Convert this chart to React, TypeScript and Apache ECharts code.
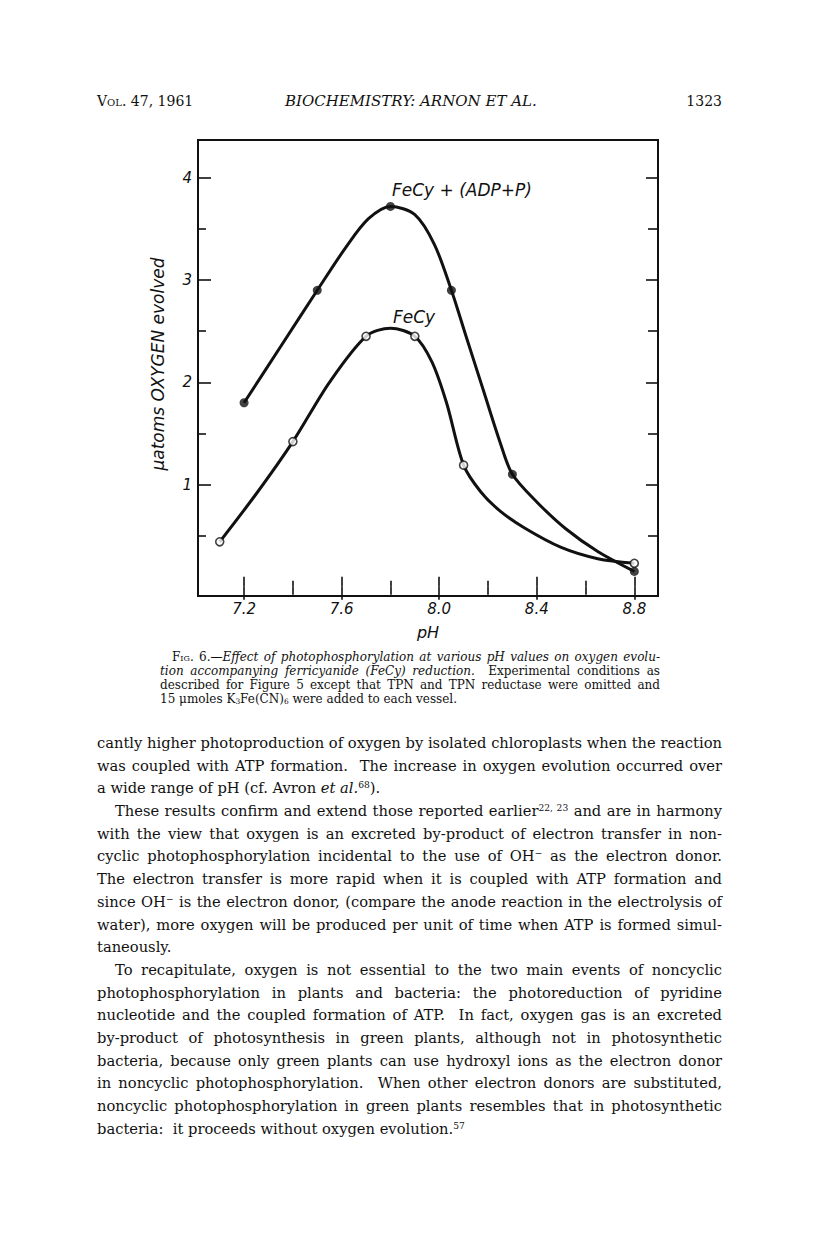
import React, { useEffect, useLayoutEffect, useRef } from "react";
import * as echarts from "echarts";

// measured data points (pH, µatoms O2 evolved)
const phFilled = [7.2, 7.5, 7.8, 8.05, 8.3, 8.8];
const oxygenFilled = [1.8, 2.9, 3.72, 2.9, 1.1, 0.15];
const phOpen = [7.1, 7.4, 7.7, 7.9, 8.1, 8.8];
const oxygenOpen = [0.44, 1.42, 2.45, 2.45, 1.19, 0.23];

// hand-drawn curves
const curveFilledPh = [7.2, 7.35, 7.5, 7.62, 7.71, 7.8, 7.9, 7.98, 8.05, 8.11, 8.18, 8.25, 8.3, 8.4, 8.52, 8.65, 8.8];
const curveFilledO2 = [1.8, 2.35, 2.9, 3.33, 3.6, 3.72, 3.64, 3.35, 2.9, 2.45, 1.93, 1.41, 1.1, 0.83, 0.565, 0.345, 0.15];
const curveOpenPh = [7.1, 7.25, 7.4, 7.55, 7.7, 7.8, 7.9, 7.97, 8.03, 8.1, 8.17, 8.25, 8.35, 8.5, 8.65, 8.8];
const curveOpenO2 = [0.44, 0.91, 1.42, 2.0, 2.45, 2.53, 2.45, 2.2, 1.8, 1.19, 0.93, 0.74, 0.575, 0.385, 0.275, 0.23];

const xMajorTicks = [7.2, 7.6, 8.0, 8.4, 8.8];
const xMinorTicks = [7.4, 7.8, 8.2, 8.6];
const yMajorTicks = [1, 2, 3, 4];
const yMinorTicks = [0.5, 1.5, 2.5, 3.5];

const seriesNames = ["FeCy + (ADP+P)", "FeCy"];
const xTitle = "pH";
const yTitle = "\u03BCatoms OXYGEN evolved";

const X_MIN = 7.011;
const X_MAX = 8.897;
const Y_MIN = -0.09;
const Y_MAX = 4.37;

const INK = "#111";
const LBL_FONT = "'DejaVu Sans', sans-serif";

function zip(a: number[], b: number[]) {
  return a.map((v, i) => [v, b[i]]);
}

function Chart() {
  const ref = useRef<HTMLDivElement>(null);
  useEffect(() => {
    if (!ref.current) return;
    const chart = echarts.init(ref.current, null, { renderer: "svg" });
    const tickStyle = { color: INK, width: 1.6 };
    const mkX = (position: string, ticks: number[], len: number, labels: boolean) => ({
      type: "value",
      min: X_MIN,
      max: X_MAX,
      position,
      axisLine: { show: false },
      splitLine: { show: false },
      axisTick: { show: true, inside: true, length: len, customValues: ticks, lineStyle: tickStyle },
      axisLabel: labels
        ? {
            show: true,
            customValues: ticks,
            formatter: (v: number) => v.toFixed(1),
            margin: 5,
            fontStyle: "italic",
            fontFamily: LBL_FONT,
            fontSize: 15,
            color: INK,
          }
        : { show: false },
    });
    const mkY = (position: string, ticks: number[], len: number, labels: boolean) => ({
      type: "value",
      min: Y_MIN,
      max: Y_MAX,
      position,
      axisLine: { show: false },
      splitLine: { show: false },
      axisTick: { show: true, inside: true, length: len, customValues: ticks, lineStyle: tickStyle },
      axisLabel: labels
        ? {
            show: true,
            customValues: ticks,
            formatter: (v: number) => String(v),
            margin: 6,
            fontStyle: "italic",
            fontFamily: LBL_FONT,
            fontSize: 15,
            color: INK,
          }
        : { show: false },
    });
    const xBottom: any = mkX("bottom", xMajorTicks, 10, true);
    xBottom.name = xTitle;
    xBottom.nameLocation = "middle";
    xBottom.nameGap = 28;
    xBottom.nameTextStyle = { fontStyle: "italic", fontFamily: LBL_FONT, fontSize: 16, color: INK };
    const curveStyle = { color: INK, width: 3 };
    chart.setOption({
      animation: false,
      grid: {
        left: 198,
        top: 140,
        width: 460,
        height: 456,
        show: true,
        borderColor: INK,
        borderWidth: 2,
        backgroundColor: "transparent",
      },
      xAxis: [
        xBottom,
        mkX("bottom", xMinorTicks, 6, false),
        mkX("top", xMajorTicks, 13, false),
        mkX("top", xMinorTicks, 8, false),
      ],
      yAxis: [
        mkY("left", yMajorTicks, 13, true),
        mkY("left", yMinorTicks, 8, false),
        mkY("right", yMajorTicks, 12, false),
        mkY("right", yMinorTicks, 10, false),
      ],
      series: [
        {
          name: seriesNames[0] + " curve",
          type: "line",
          data: zip(curveFilledPh, curveFilledO2),
          smooth: 0.3,
          showSymbol: false,
          symbol: "none",
          lineStyle: curveStyle,
          z: 2,
        },
        {
          name: seriesNames[1] + " curve",
          type: "line",
          data: zip(curveOpenPh, curveOpenO2),
          smooth: 0.3,
          showSymbol: false,
          symbol: "none",
          lineStyle: curveStyle,
          z: 2,
        },
        {
          name: seriesNames[0],
          type: "scatter",
          data: zip(phFilled, oxygenFilled),
          symbol: "circle",
          symbolSize: 9,
          itemStyle: { color: INK },
          z: 3,
        },
        {
          name: seriesNames[1],
          type: "scatter",
          data: zip(phOpen, oxygenOpen),
          symbol: "circle",
          symbolSize: 8,
          itemStyle: { color: "#fff", borderColor: INK, borderWidth: 1.6 },
          z: 4,
        },
      ],
      graphic: [
        {
          type: "text",
          x: 392,
          y: 190,
          style: {
            text: seriesNames[0],
            font: "italic 17px 'DejaVu Sans', sans-serif",
            fill: INK,
            verticalAlign: "middle",
            align: "left",
          },
        },
        {
          type: "text",
          x: 393,
          y: 317,
          style: {
            text: seriesNames[1],
            font: "italic 17px 'DejaVu Sans', sans-serif",
            fill: INK,
            verticalAlign: "middle",
            align: "left",
          },
        },
        {
          type: "text",
          x: 158,
          y: 364,
          rotation: Math.PI / 2,
          style: {
            text: yTitle,
            font: "italic 17px 'DejaVu Sans', sans-serif",
            fill: INK,
            verticalAlign: "middle",
            align: "center",
          },
        },
      ],
    });
    return () => chart.dispose();
  }, []);
  return <div ref={ref} style={{ position: "absolute", left: 0, top: 0, width: 816, height: 680 }} />;
}

// one typeset line, justified by measured word spacing
function Line(props: { children: React.ReactNode; width: number; indent?: number; justify?: boolean; h: number }) {
  const { children, width, indent = 0, justify = true, h } = props;
  const ref = useRef<HTMLSpanElement>(null);
  useLayoutEffect(() => {
    const el = ref.current;
    if (!el) return;
    el.style.wordSpacing = "0px";
    const w = el.getBoundingClientRect().width;
    const n = (el.textContent || "").split(/[ \u00a0]/).length - 1;
    const avail = width - indent;
    if (n > 0 && (justify || w > avail)) el.style.wordSpacing = (avail - w) / n + "px";
  });
  return (
    <div style={{ whiteSpace: "nowrap", paddingLeft: indent, height: h, lineHeight: h + "px" }}>
      <span ref={ref}>{children}</span>
    </div>
  );
}

const sup: React.CSSProperties = { fontSize: "0.62em", verticalAlign: "0.55em", lineHeight: 0 };
const sub: React.CSSProperties = { fontSize: "0.62em", verticalAlign: "-0.2em", lineHeight: 0 };
const sc: React.CSSProperties = { fontVariant: "small-caps" };

export default function App() {
  const serif = "'DejaVu Serif', 'Liberation Serif', serif";
  const BW = 625;
  const BH = 22.7;
  const CW = 500;
  const CH = 14;
  return (
    <div
      style={{
        position: "absolute",
        left: 0,
        top: 0,
        width: 816,
        height: 1259,
        background: "#fff",
        overflow: "hidden",
        fontFamily: serif,
        color: "#111",
      }}
    >
      {/* running head */}
      <div style={{ position: "absolute", left: 97, top: 91, width: 625, height: 20, lineHeight: "20px", fontSize: 14 }}>
        <span style={{ position: "absolute", left: 0 }}>
          <span style={sc}>Vol.</span> 47, 1961
        </span>
        <span style={{ position: "absolute", left: 188, fontStyle: "italic", fontSize: 15 }}>
          BIOCHEMISTRY: ARNON ET AL.
        </span>
        <span style={{ position: "absolute", right: 0 }}>1323</span>
      </div>

      <Chart />

      {/* caption */}
      <div style={{ position: "absolute", left: 160, top: 650, width: CW, fontSize: 12 }}>
        <Line width={CW} indent={12} h={CH}>
          <span style={sc}>Fig. 6.</span>—<i>Effect of photophosphorylation at various pH values on oxygen evolu-</i>
        </Line>
        <Line width={CW} h={CH}>
          <i>tion accompanying ferricyanide (FeCy) reduction.</i>{"\u00a0 "}Experimental conditions as
        </Line>
        <Line width={CW} h={CH}>
          described for Figure 5 except that TPN and TPN reductase were omitted and
        </Line>
        <Line width={CW} h={CH} justify={false}>
          15 μmoles K<span style={sub}>3</span>Fe(CN)<span style={sub}>6</span> were added to each vessel.
        </Line>
      </div>

      {/* body text */}
      <div style={{ position: "absolute", left: 97, top: 732, width: BW, fontSize: 14.7 }}>
        <Line width={BW} h={BH}>cantly higher photoproduction of oxygen by isolated chloroplasts when the reaction</Line>
        <Line width={BW} h={BH}>was coupled with ATP formation.{"\u00a0 "}The increase in oxygen evolution occurred over</Line>
        <Line width={BW} h={BH} justify={false}>
          a wide range of pH (cf. Avron <i>et al.</i>
          <span style={sup}>68</span>).
        </Line>
        <Line width={BW} h={BH} indent={18}>
          These results confirm and extend those reported earlier<span style={sup}>22, 23</span> and are in harmony
        </Line>
        <Line width={BW} h={BH}>with the view that oxygen is an excreted by-product of electron transfer in non-</Line>
        <Line width={BW} h={BH}>
          cyclic photophosphorylation incidental to the use of OH<span style={sup}>−</span> as the electron donor.
        </Line>
        <Line width={BW} h={BH}>The electron transfer is more rapid when it is coupled with ATP formation and</Line>
        <Line width={BW} h={BH}>
          since OH<span style={sup}>−</span> is the electron donor, (compare the anode reaction in the electrolysis of
        </Line>
        <Line width={BW} h={BH}>water), more oxygen will be produced per unit of time when ATP is formed simul-</Line>
        <Line width={BW} h={BH} justify={false}>taneously.</Line>
        <Line width={BW} h={BH} indent={18}>
          To recapitulate, oxygen is not essential to the two main events of noncyclic
        </Line>
        <Line width={BW} h={BH}>photophosphorylation in plants and bacteria: the photoreduction of pyridine</Line>
        <Line width={BW} h={BH}>nucleotide and the coupled formation of ATP.{"\u00a0 "}In fact, oxygen gas is an excreted</Line>
        <Line width={BW} h={BH}>by-product of photosynthesis in green plants, although not in photosynthetic</Line>
        <Line width={BW} h={BH}>bacteria, because only green plants can use hydroxyl ions as the electron donor</Line>
        <Line width={BW} h={BH}>in noncyclic photophosphorylation.{"\u00a0 "}When other electron donors are substituted,</Line>
        <Line width={BW} h={BH}>noncyclic photophosphorylation in green plants resembles that in photosynthetic</Line>
        <Line width={BW} h={BH} justify={false}>
          bacteria:{"\u00a0 "}it proceeds without oxygen evolution.<span style={sup}>57</span>
        </Line>
      </div>
    </div>
  );
}
